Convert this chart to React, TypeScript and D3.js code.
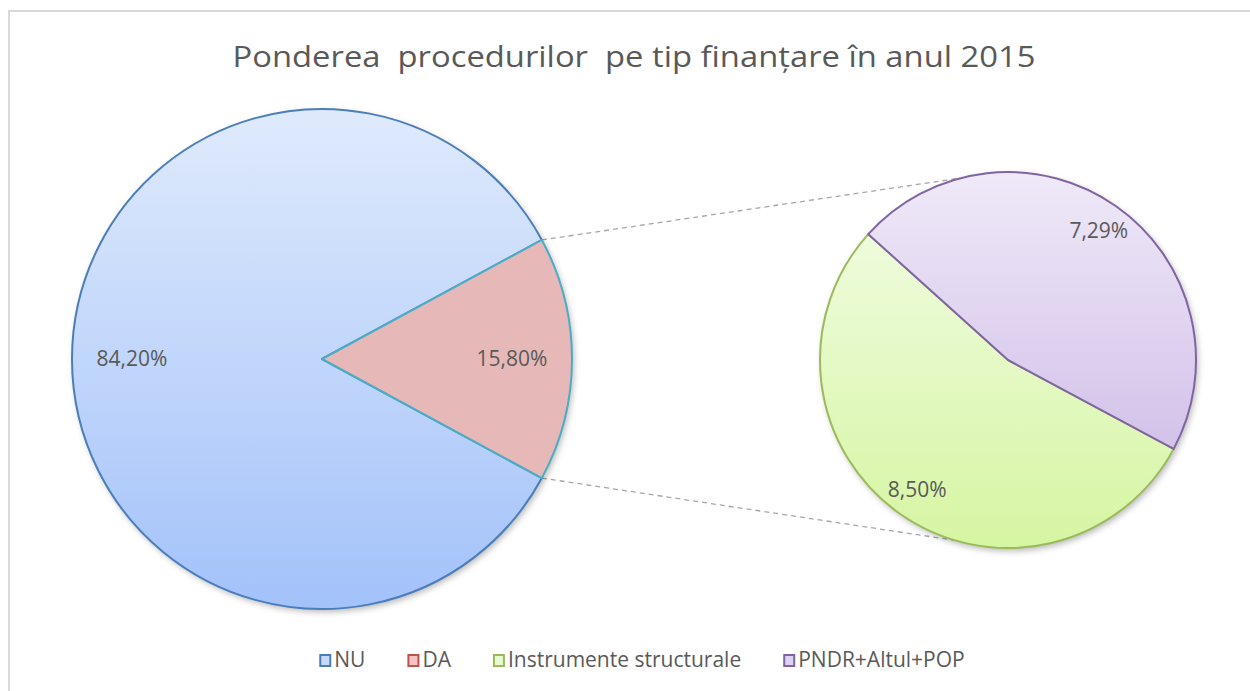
import React, { useEffect, useRef } from "react";
import * as d3 from "d3";

const titleText = "Ponderea  procedurilor  pe tip finanțare în anul 2015";
const mainCategories = ["NU", "DA"];
const mainValues = [84.2, 15.8];
const mainLabels = ["84,20%", "15,80%"];
const subCategories = ["Instrumente structurale", "PNDR+Altul+POP"];
const subValues = [8.5, 7.29];
const subLabels = ["8,50%", "7,29%"];
const legendCategories = ["NU", "DA", "Instrumente structurale", "PNDR+Altul+POP"];

const W = 1250;
const H = 691;
const FONT = "'Open Sans', 'DejaVu Sans', sans-serif";

const styles: Record<string, { top: string; bottom: string; stroke: string; swatch: string; legendStroke: string }> = {
  NU: { top: "#dfeafc", bottom: "#a3c2fa", stroke: "#4a7ebb", swatch: "#c6d9f8", legendStroke: "#4a7ebb" },
  DA: { top: "#e6b9b8", bottom: "#e6b9b8", stroke: "#4bacc6", swatch: "#f4c4c3", legendStroke: "#c0504d" },
  "Instrumente structurale": { top: "#f3fde8", bottom: "#d6f5a2", stroke: "#9bbb59", swatch: "#e8fad0", legendStroke: "#9bbb59" },
  "PNDR+Altul+POP": { top: "#efe9f8", bottom: "#c9b4e4", stroke: "#8064a2", swatch: "#ddd2ef", legendStroke: "#8064a2" },
};

export default function App() {
  const ref = useRef<SVGSVGElement | null>(null);

  useEffect(() => {
    const svg = d3.select(ref.current);
    svg.selectAll("*").remove();

    const main = { cx: 322, cy: 359, r: 250 };
    const sub = { cx: 1008, cy: 360, r: 188 };

    const defs = svg.append("defs");
    const f = defs.append("filter").attr("id", "shadow").attr("x", "-10%").attr("y", "-10%").attr("width", "130%").attr("height", "130%");
    f.append("feDropShadow").attr("dx", 2).attr("dy", 3).attr("stdDeviation", 3).attr("flood-color", "#000").attr("flood-opacity", 0.28);

    const addGrad = (id: string, r: number, c1: string, c2: string) => {
      const g = defs.append("linearGradient").attr("id", id).attr("gradientUnits", "userSpaceOnUse")
        .attr("x1", 0).attr("x2", 0).attr("y1", -r).attr("y2", r);
      g.append("stop").attr("offset", "0%").attr("stop-color", c1);
      g.append("stop").attr("offset", "100%").attr("stop-color", c2);
    };
    mainCategories.forEach((c, i) => addGrad("g-main-" + i, main.r, styles[c].top, styles[c].bottom));
    subCategories.forEach((c, i) => addGrad("g-sub-" + i, sub.r, styles[c].top, styles[c].bottom));

    // border
    svg.append("rect").attr("x", 9).attr("y", 11).attr("width", W + 20).attr("height", H + 20)
      .attr("fill", "white").attr("stroke", "#d9d9d9").attr("stroke-width", 2);

    // title
    svg.append("text").attr("x", 634).attr("y", 67).attr("text-anchor", "middle")
      .attr("font-family", FONT).attr("font-size", 29).attr("fill", "#595959")
      .attr("textLength", 803).attr("lengthAdjust", "spacingAndGlyphs")
      .style("white-space", "pre").text(titleText);

    // main pie: DA slice centred on the east direction
    const daIndex = mainCategories.indexOf("DA");
    const total = d3.sum(mainValues);
    const daSpan = (2 * Math.PI * mainValues[daIndex]) / total;
    const mainStart = Math.PI / 2 - daSpan / 2;
    const mainOrder = [daIndex, ...mainCategories.map((_, i) => i).filter((i) => i !== daIndex)];
    const mainPie = d3.pie<number>().sort(null).value((i) => mainValues[i])
      .startAngle(mainStart).endAngle(mainStart + 2 * Math.PI)(mainOrder);

    const polar = (c: { cx: number; cy: number }, r: number, a: number): [number, number] =>
      [c.cx + r * Math.sin(a), c.cy - r * Math.cos(a)];

    // connectors
    const daArc = mainPie.find((p) => p.data === daIndex)!;
    const pTop = polar(main, main.r, daArc.startAngle);
    const pBot = polar(main, main.r, daArc.endAngle);
    const sTop = polar(sub, sub.r, (-14.6 * Math.PI) / 180);
    const sBot = polar(sub, sub.r, (196.4 * Math.PI) / 180);
    [[pTop, sTop], [pBot, sBot]].forEach(([a, b]) => {
      svg.append("line").attr("x1", a[0]).attr("y1", a[1]).attr("x2", b[0]).attr("y2", b[1])
        .attr("stroke", "#a6a6a6").attr("stroke-width", 1.3).attr("stroke-dasharray", "5,4");
    });

    const arcMain = d3.arc<d3.PieArcDatum<number>>().innerRadius(0).outerRadius(main.r);
    const gMain = svg.append("g").attr("transform", `translate(${main.cx},${main.cy})`);
    gMain.append("circle").attr("r", main.r).attr("fill", "white").attr("filter", "url(#shadow)");
    const mainDraw = [...mainPie].sort((a, b) => (a.data === daIndex ? 1 : 0) - (b.data === daIndex ? 1 : 0));
    gMain.selectAll("path.m").data(mainDraw).join("path").attr("class", "m")
      .attr("d", arcMain)
      .attr("fill", (d) => `url(#g-main-${d.data})`)
      .attr("stroke", (d) => styles[mainCategories[d.data]].stroke)
      .attr("stroke-width", 2).attr("stroke-linejoin", "round");

    const labelArcMain = d3.arc<d3.PieArcDatum<number>>().innerRadius(main.r * 0.76).outerRadius(main.r * 0.76);
    gMain.selectAll("text.m").data(mainPie).join("text").attr("class", "m")
      .attr("transform", (d) => `translate(${labelArcMain.centroid(d)})`)
      .attr("text-anchor", "middle").attr("dy", "0.35em")
      .attr("font-family", FONT).attr("font-size", 21).attr("fill", "#595959")
      .text((d) => mainLabels[d.data]);

    // secondary pie
    const pndrIndex = subCategories.indexOf("PNDR+Altul+POP");
    const subOrder = [pndrIndex, ...subCategories.map((_, i) => i).filter((i) => i !== pndrIndex)];
    const subStart = (-48 * Math.PI) / 180;
    const subPie = d3.pie<number>().sort(null).value((i) => subValues[i])
      .startAngle(subStart).endAngle(subStart + 2 * Math.PI)(subOrder);
    const arcSub = d3.arc<d3.PieArcDatum<number>>().innerRadius(0).outerRadius(sub.r);
    const gSub = svg.append("g").attr("transform", `translate(${sub.cx},${sub.cy})`);
    gSub.append("circle").attr("r", sub.r).attr("fill", "white").attr("filter", "url(#shadow)");
    const subDraw = [...subPie].sort((a, b) => (a.data === pndrIndex ? 1 : 0) - (b.data === pndrIndex ? 1 : 0));
    gSub.selectAll("path.s").data(subDraw).join("path").attr("class", "s")
      .attr("d", arcSub)
      .attr("fill", (d) => `url(#g-sub-${d.data})`)
      .attr("stroke", (d) => styles[subCategories[d.data]].stroke)
      .attr("stroke-width", 2).attr("stroke-linejoin", "round");
    const labelArcSub = d3.arc<d3.PieArcDatum<number>>().innerRadius(sub.r * 0.84).outerRadius(sub.r * 0.84);
    gSub.selectAll("text.s").data(subPie).join("text").attr("class", "s")
      .attr("transform", (d) => `translate(${labelArcSub.centroid(d)})`)
      .attr("text-anchor", "middle").attr("dy", "0.35em")
      .attr("font-family", FONT).attr("font-size", 21).attr("fill", "#595959")
      .text((d) => subLabels[d.data]);

    // legend
    const lg = svg.append("g");
    const items = lg.selectAll("g.li").data(legendCategories).join("g").attr("class", "li");
    items.append("rect").attr("x", 1).attr("y", -12).attr("width", 10).attr("height", 11)
      .attr("fill", (d) => styles[d].swatch).attr("stroke", (d) => styles[d].legendStroke).attr("stroke-width", 2);
    items.append("text").attr("x", 15).attr("y", 0)
      .attr("font-family", FONT).attr("font-size", 21).attr("fill", "#595959").text((d) => d);
    const widths: number[] = [];
    items.each(function () {
      const t = d3.select(this).select("text").node() as SVGTextElement;
      widths.push(15 + t.getComputedTextLength());
    });
    const gap = 42;
    const totalW = d3.sum(widths) + gap * (widths.length - 1);
    let x = 642 - totalW / 2;
    items.attr("transform", (_, i) => {
      const tx = x;
      x += widths[i] + gap;
      return `translate(${tx},667)`;
    });
  }, []);

  return (
    <svg ref={ref} width={W} height={H} style={{ position: "absolute", left: 0, top: 0, background: "white" }} />
  );
}
